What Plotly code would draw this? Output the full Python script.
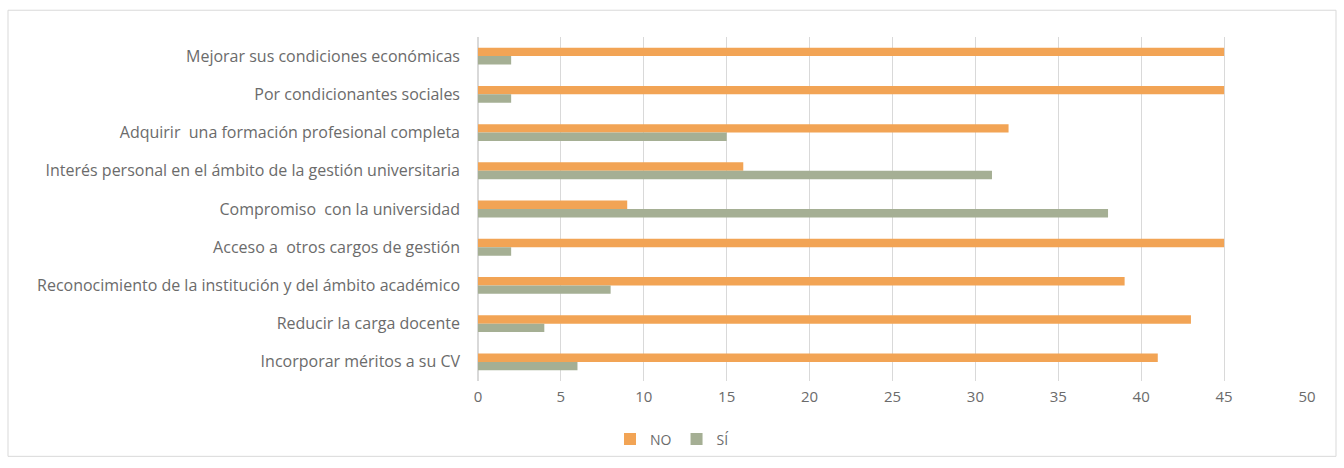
import plotly.graph_objects as go

categories = [
    "Mejorar sus condiciones económicas",
    "Por condicionantes sociales",
    "Adquirir  una formación profesional completa",
    "Interés personal en el ámbito de la gestión universitaria",
    "Compromiso  con la universidad",
    "Acceso a  otros cargos de gestión",
    "Reconocimiento de la institución y del ámbito académico",
    "Reducir la carga docente",
    "Incorporar méritos a su CV",
]
no_values = [45, 45, 32, 16, 9, 45, 39, 43, 41]
si_values = [2, 2, 15, 31, 38, 2, 8, 4, 6]
x_ticks = [0, 5, 10, 15, 20, 25, 30, 35, 40, 45, 50]

ORANGE = "#F2A455"
GREEN = "#A5AF94"
TEXT = "#6B6B6B"

fig = go.Figure()
fig.add_trace(go.Bar(y=categories, x=no_values, name="NO", orientation="h",
                     marker=dict(color=ORANGE, line=dict(width=0))))
fig.add_trace(go.Bar(y=categories, x=si_values, name="SÍ", orientation="h",
                     marker=dict(color=GREEN, line=dict(width=0))))

W, H = 1344, 468
L, R, T, B = 478, 37, 37, 84
pw, ph = W - L - R, H - T - B

def px_x(p):
    return (p - L) / pw

def px_y(p):
    return (H - B - p) / ph

FONT = "Open Sans, Lato, sans-serif"

fig.update_layout(
    width=W, height=H,
    margin=dict(l=L, r=R, t=T, b=B),
    paper_bgcolor="white", plot_bgcolor="white",
    barmode="group", bargap=0.56, bargroupgap=0,
    font=dict(family=FONT, size=13, color=TEXT),
    xaxis=dict(range=[0, 50], tickvals=x_ticks, showgrid=True, gridcolor="#D9D9D9",
               gridwidth=1, zeroline=True, zerolinecolor="#D9D9D9", showline=False,
               ticks="", tickfont=dict(family=FONT, size=15, color=TEXT),
               ticklabelstandoff=5, fixedrange=True),
    yaxis=dict(autorange="reversed", showgrid=False, ticks="", showline=False,
               tickfont=dict(family=FONT, size=16, color=TEXT), ticklabelstandoff=17),
    legend=dict(orientation="h", x=px_x(672), xanchor="center", y=px_y(443), yanchor="middle",
                font=dict(family=FONT, size=14, color=TEXT), itemwidth=30,
                traceorder="normal", tracegroupgap=0),
    showlegend=True,
    shapes=[dict(type="rect", xref="paper", yref="paper",
                 x0=px_x(8), x1=px_x(1336), y0=px_y(460), y1=px_y(10),
                 line=dict(color="#D9D9D9", width=1), fillcolor="rgba(0,0,0,0)", layer="below")],
)

fig.write_html("out.html")
